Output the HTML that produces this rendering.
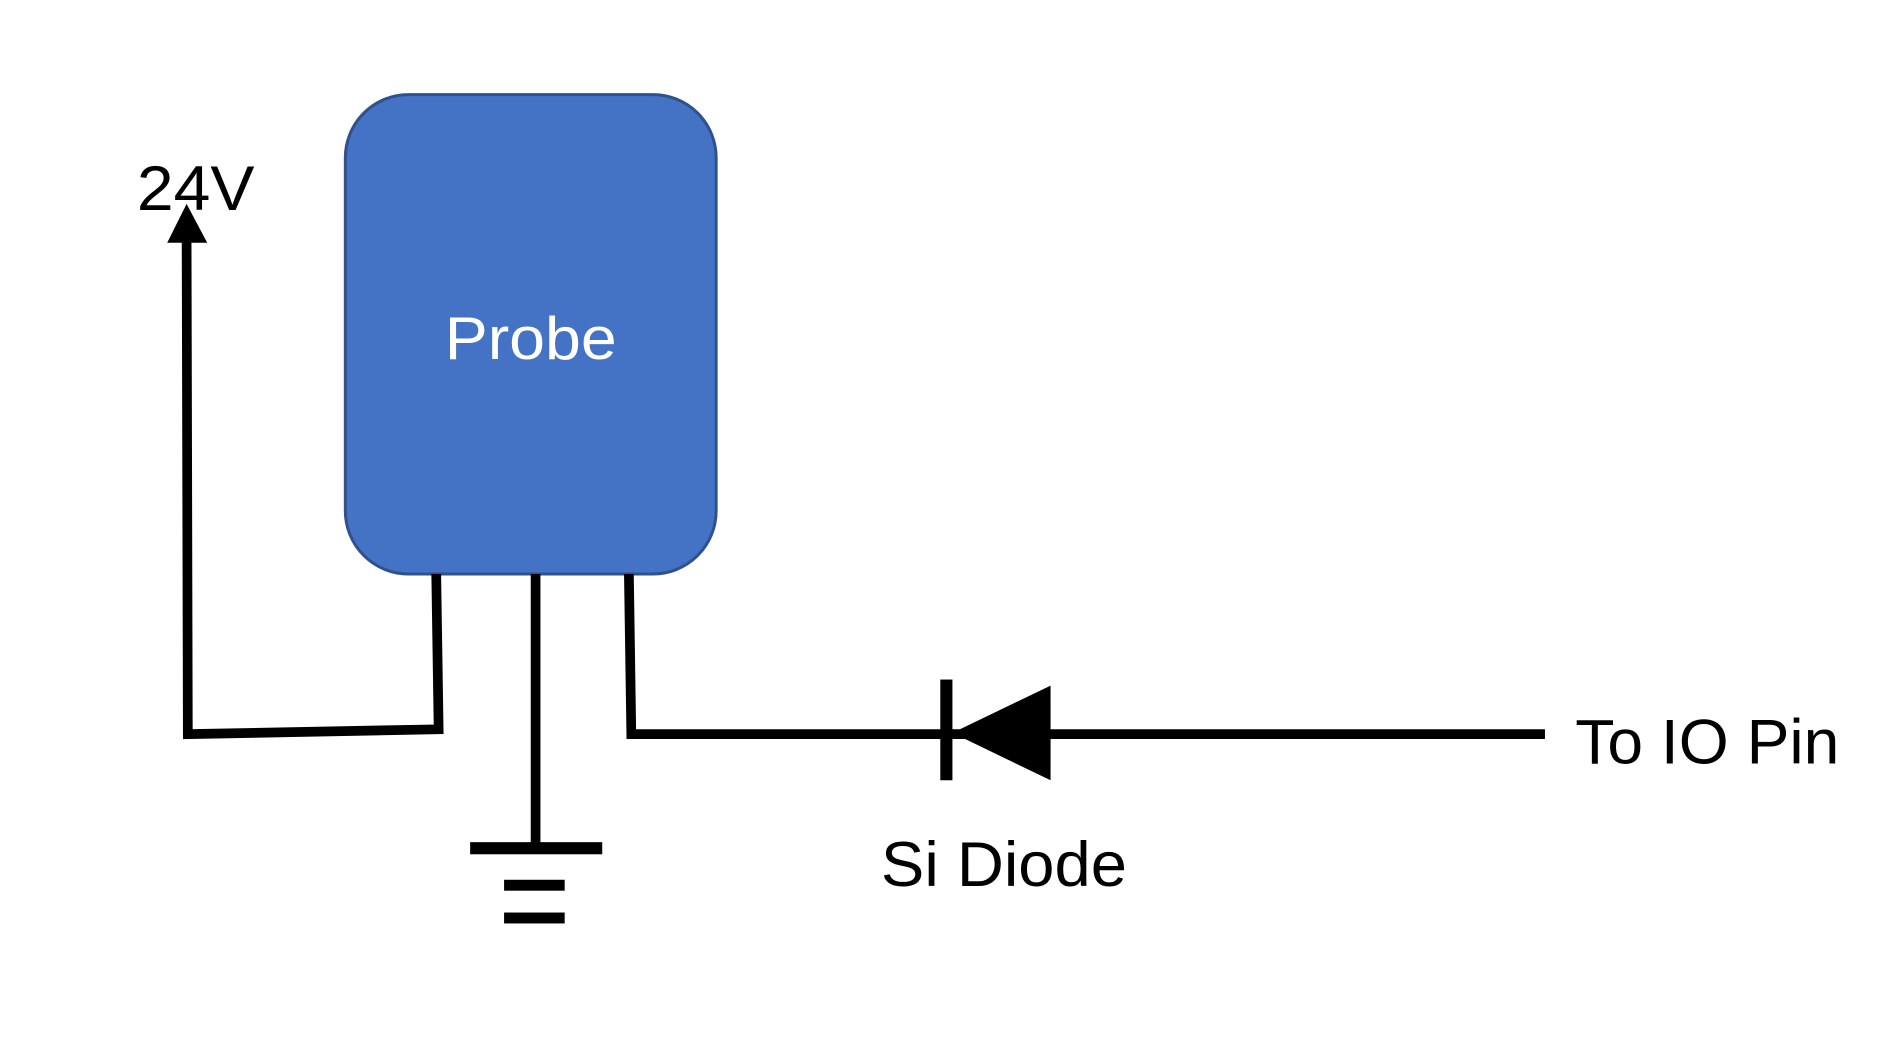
<!DOCTYPE html>
<html><head><meta charset="utf-8"><style>html,body{margin:0;padding:0;background:#fff;overflow:hidden}svg{display:block}</style></head>
<body>
<svg width="1900" height="1063" viewBox="0 0 1568 876" preserveAspectRatio="none" xmlns="http://www.w3.org/2000/svg">
<rect width="1568" height="876" fill="#fff"/>
<rect x="285" y="78" width="306" height="395" rx="52" ry="52" fill="#4472C4" stroke="#2F528F" stroke-width="2.5"/>
<text x="438" y="296" font-family="Liberation Sans, sans-serif" font-size="50" fill="#fff" text-anchor="middle" textLength="142" lengthAdjust="spacingAndGlyphs">Probe</text>
<text x="113" y="173" font-family="Liberation Sans, sans-serif" font-size="52" fill="#000" textLength="97" lengthAdjust="spacingAndGlyphs">24V</text>
<g stroke="#000" stroke-width="8" fill="none" stroke-linejoin="miter">
<polyline points="360,473 362,601 155,605 154,198"/>
<line x1="442" y1="473" x2="442" y2="697"/>
<polyline points="519,473 521,605 1275,605"/>
</g>
<polygon points="138,200 171,200 154,168" fill="#000"/>
<rect x="388" y="694" width="109" height="10" fill="#000"/>
<rect x="416" y="725" width="50" height="9" fill="#000"/>
<rect x="416" y="752" width="50" height="9" fill="#000"/>
<rect x="776" y="560" width="10" height="83" fill="#000"/>
<polygon points="867,565 867,643 786,604" fill="#000"/>
<text x="727" y="730" font-family="Liberation Sans, sans-serif" font-size="52" fill="#000" textLength="203" lengthAdjust="spacingAndGlyphs">Si Diode</text>
<text x="1300" y="629" font-family="Liberation Sans, sans-serif" font-size="52" fill="#000" textLength="218" lengthAdjust="spacingAndGlyphs">To IO Pin</text>
</svg>
</body></html>
